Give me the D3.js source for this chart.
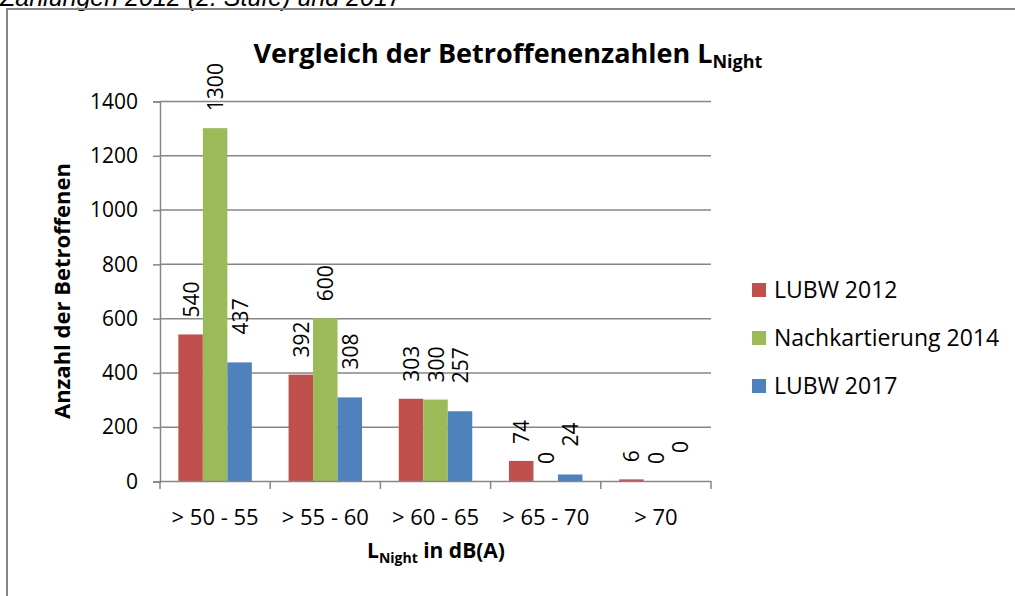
<!DOCTYPE html>
<html>
<head>
<meta charset="utf-8">
<script src="https://cdn.jsdelivr.net/npm/d3@7"></script>
<style>
  html, body { margin: 0; padding: 0; background: #fff; }
  svg { display: block; font-family: "Open Sans", "Liberation Sans", sans-serif; }
</style>
</head>
<body>
<svg id="chart" width="1015" height="596"></svg>
<script>
// ==========================================
// DATA
// ==========================================
const categories = ['> 50 - 55', '> 55 - 60', '> 60 - 65', '> 65 - 70', '> 70'];
const seriesNames = ['LUBW 2012', 'Nachkartierung 2014', 'LUBW 2017'];
const lubw2012 = [540, 392, 303, 74, 6];
const nachkartierung2014 = [1300, 600, 300, 0, 0];
const lubw2017 = [437, 308, 257, 24, 0];
const yTicks = [0, 200, 400, 600, 800, 1000, 1200, 1400];
const colors = ['#C0504D', '#9BBB59', '#4F81BD'];

const seriesValues = [lubw2012, nachkartierung2014, lubw2017];

// ==========================================
// LAYOUT
// ==========================================
const W = 1015, H = 596;
const plot = { left: 160, right: 711, top: 101, bottom: 481 };
const gridColor = '#868686';

const svg = d3.select('#chart');

// caption text cut off at the top of the picture
svg.append('text')
  .attr('x', 0)
  .attr('y', 6)
  .attr('font-family', '"Liberation Sans", Arial, sans-serif')
  .attr('font-style', 'italic')
  .attr('font-size', 25)
  .attr('fill', '#000')
  .text('Zahlungen 2012 (2. Stufe) und 2017');

// chart frame
svg.append('rect')
  .attr('x', 7)
  .attr('y', 9)
  .attr('width', W)
  .attr('height', H)
  .attr('fill', 'none')
  .attr('stroke', gridColor)
  .attr('stroke-width', 2);

// scales
const x0 = d3.scaleBand()
  .domain(categories)
  .range([plot.left, plot.right])
  .paddingInner(0)
  .paddingOuter(0);

// Excel gap width 150% -> half the gap on each side of the cluster
const x1 = d3.scaleBand()
  .domain(d3.range(seriesNames.length))
  .range([0, x0.bandwidth()])
  .paddingInner(0)
  .paddingOuter(0.75);

const y = d3.scaleLinear()
  .domain([0, 1400])
  .range([plot.bottom, plot.top]);

// gridlines
svg.append('g')
  .selectAll('line')
  .data(yTicks.filter(t => t > 0))
  .enter().append('line')
  .attr('x1', plot.left)
  .attr('x2', plot.right)
  .attr('y1', d => y(d) + 0.5)
  .attr('y2', d => y(d) + 0.5)
  .attr('stroke', gridColor)
  .attr('stroke-width', 1.5);

// y axis
const yAxis = d3.axisLeft(y)
  .tickValues(yTicks)
  .tickFormat(d3.format('d'))
  .tickSize(7)
  .tickPadding(15);

const yG = svg.append('g')
  .attr('transform', `translate(${plot.left},0.5)`)
  .call(yAxis);
yG.select('.domain').attr('stroke', gridColor).attr('stroke-width', 1.5);
yG.selectAll('.tick line').attr('stroke', gridColor).attr('stroke-width', 1.5);
yG.selectAll('.tick text')
  .attr('font-family', '"Open Sans", sans-serif')
  .attr('font-size', 21)
  .attr('fill', '#000');

// bars
const groups = svg.append('g')
  .selectAll('g')
  .data(categories)
  .enter().append('g')
  .attr('transform', d => `translate(${x0(d)},0)`);

groups.selectAll('rect')
  .data((d, i) => seriesValues.map((vals, s) => ({ s, v: vals[i] })))
  .enter().append('rect')
  .attr('x', d => x1(d.s))
  .attr('y', d => y(d.v))
  .attr('width', x1.bandwidth())
  .attr('height', d => y(0) - y(d.v))
  .attr('fill', d => colors[d.s]);

// data labels (rotated, outside end)
const labelGap = [17, 17, 28];
groups.selectAll('text.lbl')
  .data((d, i) => seriesValues.map((vals, s) => ({ s, v: vals[i] })))
  .enter().append('text')
  .attr('class', 'lbl')
  .attr('transform', d => {
    const cx = x1(d.s) + x1.bandwidth() / 2;
    const yy = y(d.v) - labelGap[d.s];
    return `translate(${cx + 8},${yy}) rotate(-90)`;
  })
  .attr('font-size', 21)
  .attr('fill', '#000')
  .text(d => d.v);

// x axis
svg.append('line')
  .attr('x1', plot.left)
  .attr('x2', plot.right)
  .attr('y1', plot.bottom + 0.5)
  .attr('y2', plot.bottom + 0.5)
  .attr('stroke', gridColor)
  .attr('stroke-width', 1.5);

const boundaries = categories.map(c => x0(c)).concat([plot.right]);
svg.append('g')
  .selectAll('line')
  .data(boundaries)
  .enter().append('line')
  .attr('x1', d => d)
  .attr('x2', d => d)
  .attr('y1', plot.bottom)
  .attr('y2', plot.bottom + 8)
  .attr('stroke', gridColor)
  .attr('stroke-width', 1.5);

svg.append('g')
  .selectAll('text')
  .data(categories)
  .enter().append('text')
  .attr('x', d => x0(d) + x0.bandwidth() / 2)
  .attr('y', 525)
  .attr('text-anchor', 'middle')
  .attr('font-size', 22)
  .attr('fill', '#000')
  .text(d => d);

// chart title
const title = svg.append('text')
  .attr('x', 508)
  .attr('y', 63)
  .attr('text-anchor', 'middle')
  .attr('font-size', 27)
  .attr('font-weight', 'bold')
  .attr('fill', '#000');
title.append('tspan').text('Vergleich der Betroffenenzahlen L');
title.append('tspan').attr('font-size', 18).attr('dy', 5).text('Night');

// axis titles
svg.append('text')
  .attr('transform', 'translate(70,291) rotate(-90)')
  .attr('text-anchor', 'middle')
  .attr('font-size', 22)
  .attr('font-weight', 'bold')
  .attr('fill', '#000')
  .text('Anzahl der Betroffenen');

const xTitle = svg.append('text')
  .attr('x', 436)
  .attr('y', 558)
  .attr('text-anchor', 'middle')
  .attr('font-size', 21)
  .attr('font-weight', 'bold')
  .attr('fill', '#000');
xTitle.append('tspan').text('L');
xTitle.append('tspan').attr('font-size', 14).attr('dy', 5).text('Night');
xTitle.append('tspan').attr('dy', -5).text(' in dB(A)');

// legend
const legend = svg.append('g')
  .selectAll('g')
  .data(seriesNames)
  .enter().append('g')
  .attr('transform', (d, i) => `translate(752,${290 + i * 48})`);

legend.append('rect')
  .attr('x', 0)
  .attr('y', -7)
  .attr('width', 14)
  .attr('height', 14)
  .attr('fill', (d, i) => colors[i]);

legend.append('text')
  .attr('x', 22)
  .attr('y', 8)
  .attr('font-size', 23)
  .attr('fill', '#000')
  .text(d => d);
</script>
</body>
</html>
